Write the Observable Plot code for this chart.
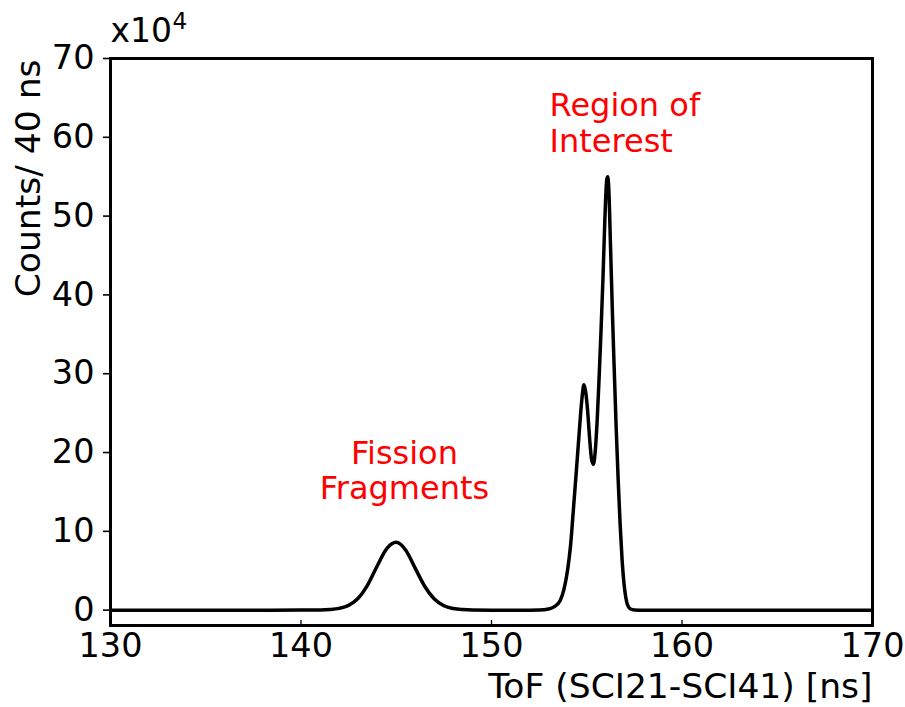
<!DOCTYPE html>
<html>
<head>
<meta charset="utf-8">
<script src="https://cdn.jsdelivr.net/npm/d3@7"></script>
<script src="https://cdn.jsdelivr.net/npm/@observablehq/plot@0.6"></script>
<style>
  html, body { margin: 0; padding: 0; background: #fff; }
  #chart svg { display: block; }
</style>
</head>
<body>
<div id="chart"></div>
<script>
// ToF (SCI21-SCI41) in ns
const tof = [
  130, 135, 138, 140, 141, 141.5, 142, 142.5, 143, 143.5, 144, 144.5, 145, 145.5,
  146, 146.5, 147, 147.5, 148, 148.5, 149, 150, 152, 152.5, 153, 153.3, 153.6,
  153.8, 154.0, 154.15, 154.3, 154.45, 154.6, 154.75, 154.85, 154.95, 155.05,
  155.15, 155.25, 155.35, 155.45, 155.55, 155.65, 155.75, 155.85, 155.95, 156.05,
  156.1, 156.15, 156.25, 156.35, 156.45, 156.55, 156.65, 156.75, 156.85, 156.95,
  157.05, 157.15, 157.3, 157.5, 158, 160, 170
];
// Counts per 40 ns, in units of 10^4
const counts = [
  0, 0, 0, 0.01, 0.03, 0.08, 0.22, 0.6, 1.5, 3.2, 5.6, 7.8, 8.6, 7.6,
  5.3, 3.0, 1.4, 0.55, 0.2, 0.07, 0.02, 0, 0, 0.02, 0.15, 0.45, 1.2,
  2.6, 5.2, 8.2, 12.8, 17.5, 22.4, 26.9, 28.6, 27.6, 25.2,
  21.8, 19.2, 18.5, 20.3, 24.2, 29.6, 35.5, 42.0, 49.5, 54.6,
  55.0, 53.8, 46.0, 37.5, 30.0, 22.8, 16.5, 11.0, 6.6, 3.5,
  1.6, 0.6, 0.15, 0.03, 0, 0, 0
];
const xTicks = [130, 140, 150, 160, 170];
const yTicks = [0, 10, 20, 30, 40, 50, 60, 70];
const xLabel = "ToF (SCI21-SCI41) [ns]";
const yLabel = "Counts/ 40 ns";
const scaleBase = "x10";
const scaleExp = "4";
const annFission = ["Fission\nFragments"];
const annRegion = ["Region of\nInterest"];

const font = "DejaVu Sans";

const chart = Plot.plot({
  width: 905,
  height: 707,
  marginLeft: 110,
  marginRight: 33,
  marginTop: 58,
  marginBottom: 82,
  style: { fontFamily: font, fontSize: "33px", background: "#fff", color: "#000" },
  x: { domain: [130, 170] },
  y: { domain: [-1.95, 70] },
  marks: [
    Plot.line({ length: tof.length }, {
      x: tof, y: counts, curve: "monotone-x",
      stroke: "#000", strokeWidth: 3.5, strokeLinejoin: "round"
    }),
    Plot.axisX({
      ticks: xTicks, tickSize: -5, tickPadding: 13, strokeWidth: 1.3,
      tickFormat: d => String(d), label: null, fontSize: 33.5
    }),
    Plot.axisY({
      ticks: yTicks, tickSize: 7, tickPadding: 9, strokeWidth: 1.6,
      tickFormat: d => String(d), label: null, fontSize: 33.5
    }),
    Plot.frame({ stroke: "#000", strokeWidth: 3 }),
    Plot.text([xLabel], {
      frameAnchor: "bottom-right", textAnchor: "end", lineAnchor: "middle",
      dy: 61, fontSize: 34.5, fill: "#000"
    }),
    Plot.text([yLabel], {
      frameAnchor: "top-left", textAnchor: "end", lineAnchor: "middle",
      rotate: -90, dx: -82, dy: 1, fontSize: 34.5, fill: "#000"
    }),
    Plot.text([scaleBase], {
      frameAnchor: "top-left", textAnchor: "start", lineAnchor: "bottom",
      dx: 0, dy: -17, fontSize: 33, fill: "#000"
    }),
    Plot.text([scaleExp], {
      frameAnchor: "top-left", textAnchor: "start", lineAnchor: "bottom",
      dx: 62, dy: -30, fontSize: 23, fill: "#000"
    }),
    Plot.text(annFission, {
      x: () => 145.43, y: () => 21.7, text: d => d,
      textAnchor: "middle", lineAnchor: "top", lineHeight: 1.1,
      fontSize: 32, fill: "#ff0000"
    }),
    Plot.text(annRegion, {
      x: () => 153.05, y: () => 65.9, text: d => d,
      textAnchor: "start", lineAnchor: "top", lineHeight: 1.12,
      fontSize: 32, fill: "#ff0000"
    })
  ]
});
document.getElementById("chart").appendChild(chart);
</script>
</body>
</html>
